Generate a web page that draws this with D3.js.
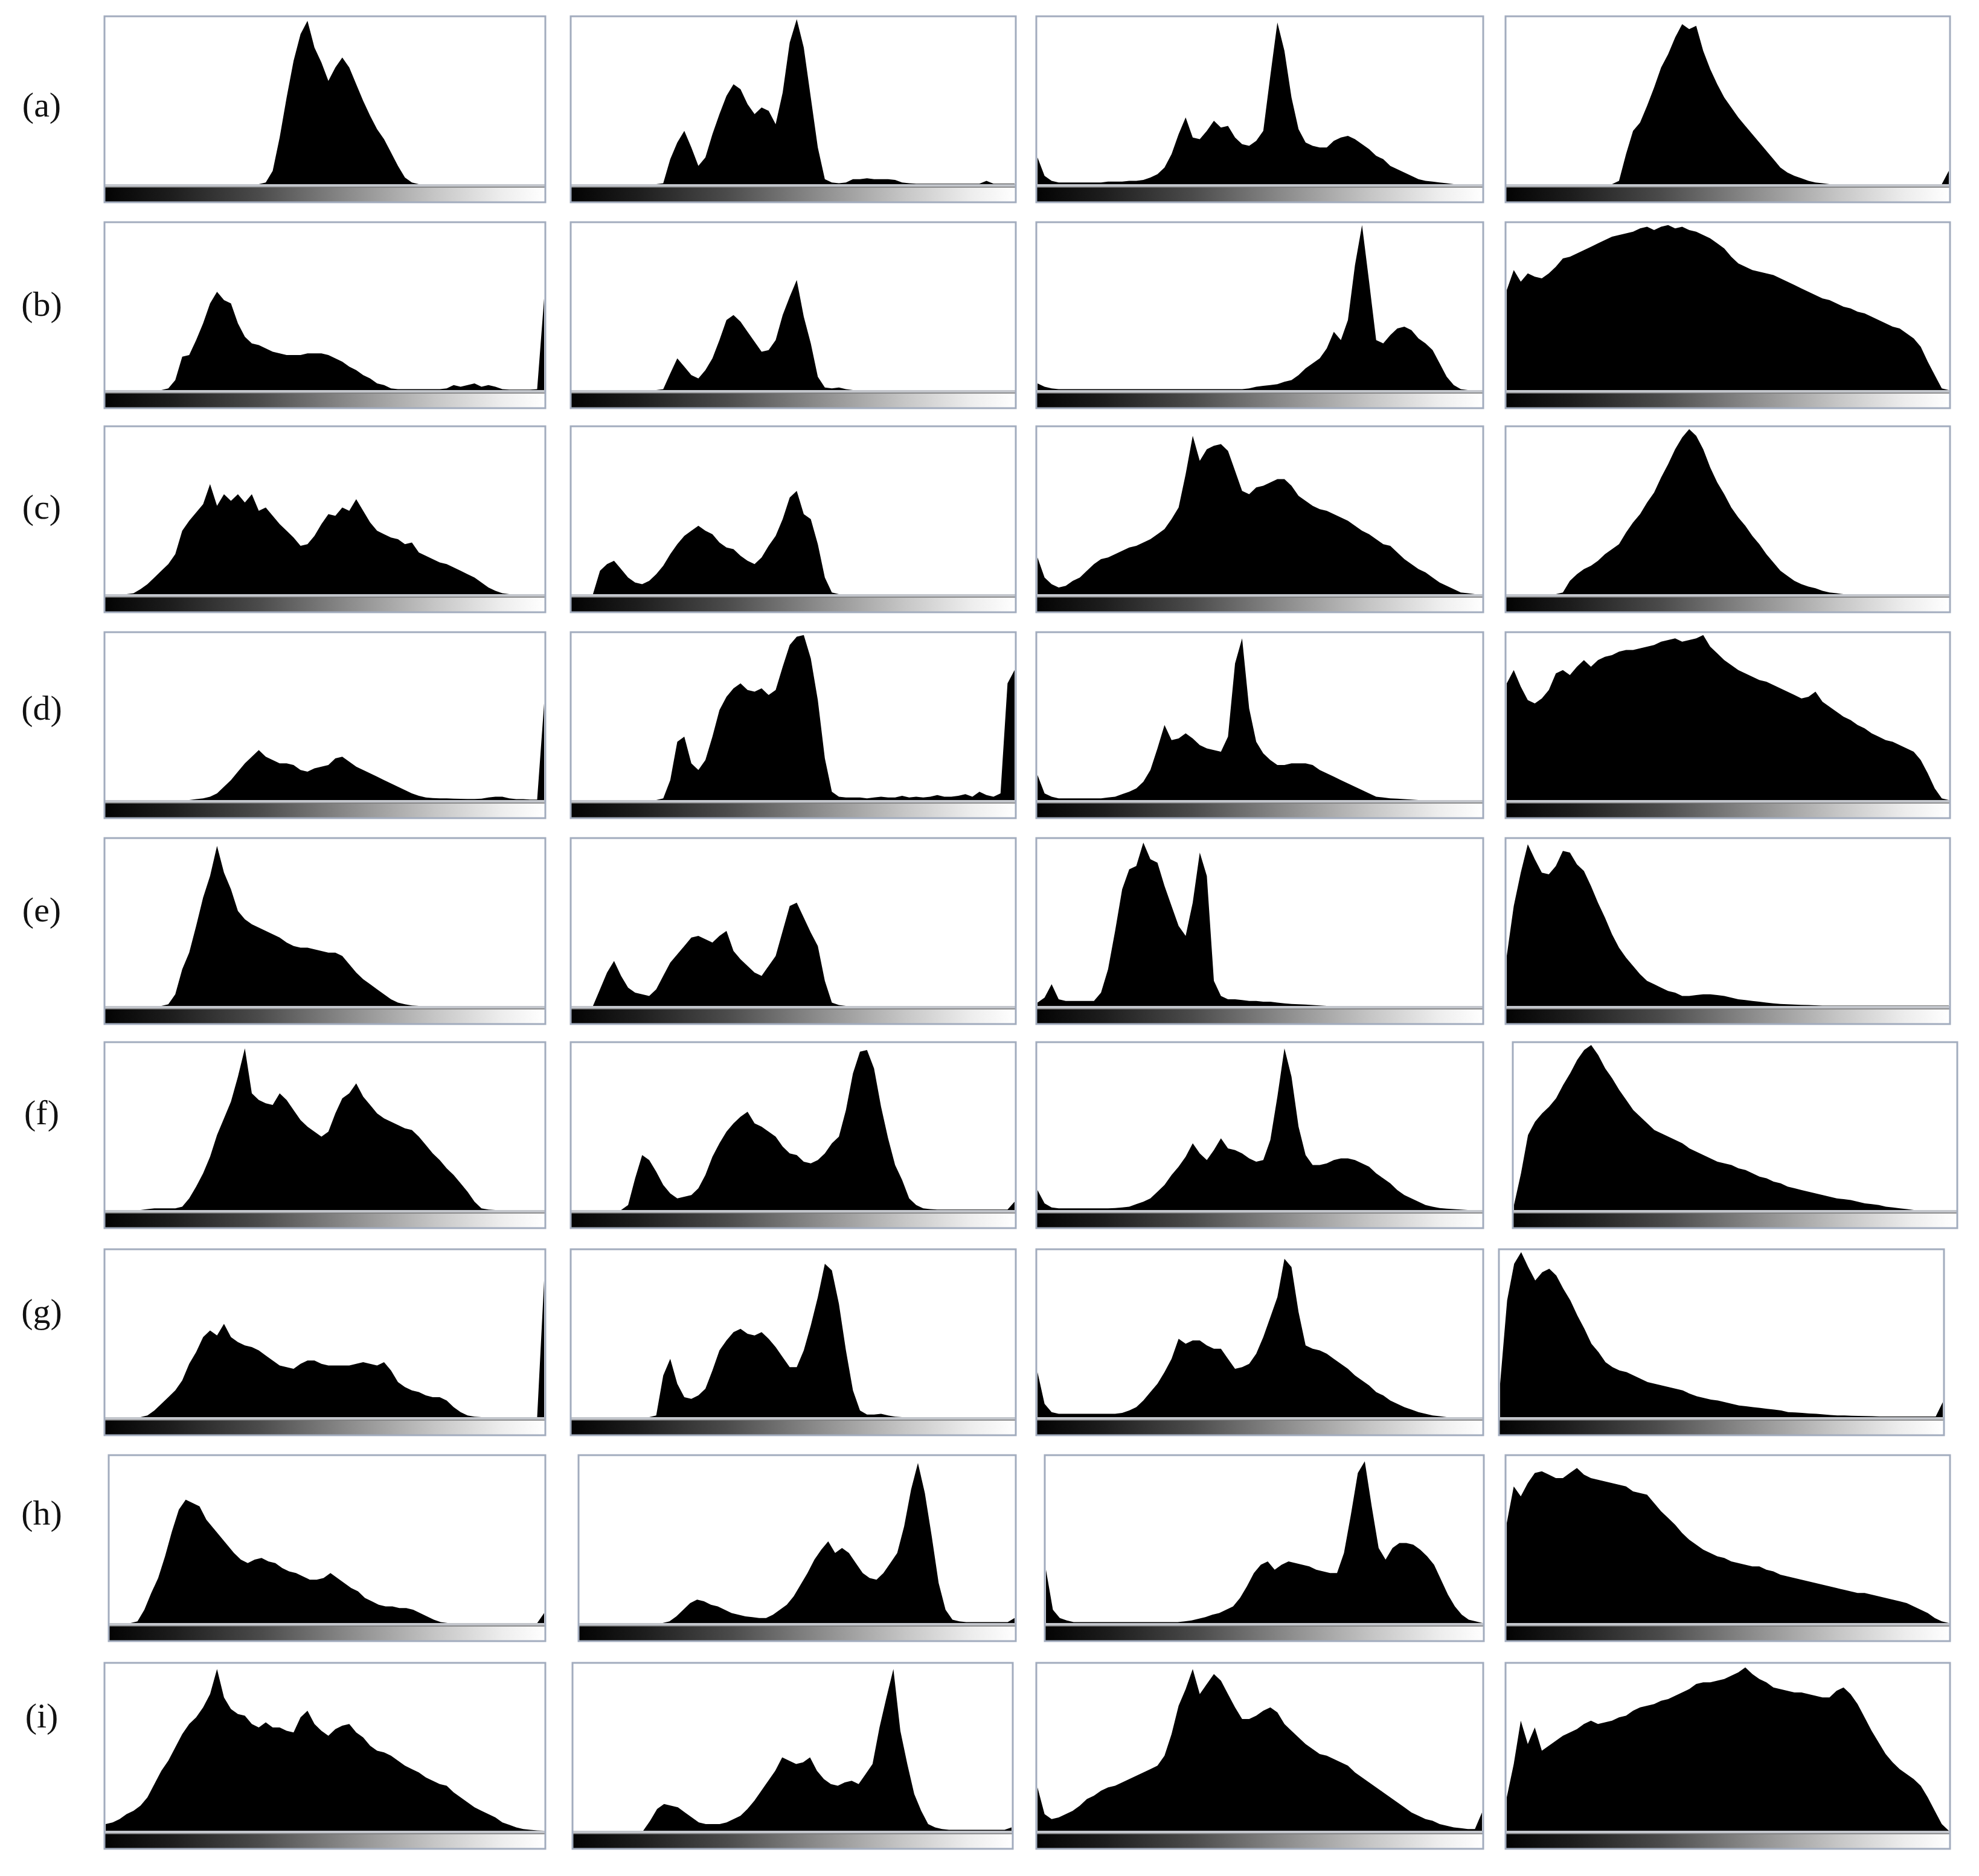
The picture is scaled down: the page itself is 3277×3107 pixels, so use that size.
<!DOCTYPE html>
<html>
<head>
<meta charset="utf-8">
<script src="https://cdn.jsdelivr.net/npm/d3@7"></script>
<style>
  body { margin: 0; background: #fff; }
  .row-label { font-family: 'Liberation Serif', 'Times New Roman', serif; font-size: 58px; fill: #111; }
</style>
</head>
<body>
<div id="chart"></div>
<script>
'use strict'

// row labels
const rowLabels = ['(a)', '(b)', '(c)', '(d)', '(e)', '(f)', '(g)', '(h)', '(i)']

// grey level histograms, 64 bins each, height in % of the plot box
// row (a)
const ha1 = [0,0,0,0,0,0,0,0, 0,0,0,0,0,0,0,0, 0,0,0,0,0,0,0,1, 8,28,52,74,90,98,82,73,
            62,70,76,70,60,50,41,33, 27,19,11,4,1,0,0,0, 0,0,0,0,0,0,0,0, 0,0,0,0,0,0,0,0]
const ha2 = [0,0,0,0,0,0,0,0, 0,0,0,0,0,0.5,15,25, 32,22,11,16,30,42,53,60, 57,48,42,46,44,36,55,85,
            99,82,52,22,3,1,0.5,1, 3,3,3.5,3,3,3,2.5,1, 0.5,0.3,0.3,0.3,0.3,0.3,0.3,0.3, 0.3,0.3,0.3,2,0.3,0.3,0.3,0.3]
const ha3 = [16,5,2,1,1,1,1,1, 1,1,1.5,1.5,1.5,2,2,2.5, 4,6,10,18,30,40,28,27, 32,38,34,35,28,24,23,26,
            32,65,97,80,52,33,25,23, 22,22,26,28,29,27,24,21, 17,15,11,9,7,5,3,2, 1.5,1,0.5,0,0,0,0,0]
const ha4 = [0,0,0,0,0,0,0,0, 0,0,0,0,0,0,0,0, 2,18,32,37,47,58,70,78, 88,96,93,95,80,69,60,52,
            46,40,35,30,25,20,15,10, 7,5,3.5,2,1,0.5,0,0, 0,0,0,0,0,0,0,0, 0,0,0,0,0,0,0,8]
// row (b)
const hb1 = [0,0,0,0,0,0,0,0, 0,1,6,20,21,30,40,52, 59,54,52,40,32,28,27,25, 23,22,21,21,21,22,22,22,
            21,19,17,14,12,9,7,4, 3,1,0.5,0.5,0.5,0.5,0.5,0.5, 0.5,1,3,2,3,4,2,3, 2,0.5,0.3,0.3,0.3,0.3,0.5,55]
const hb2 = [0,0,0,0,0,0,0,0, 0,0,0,0,0,0.5,10,19, 14,9,7,12,19,30,42,45, 41,35,29,23,24,30,45,56,
            66,44,28,8,1.5,1,1.5,0.5, 0,0,0,0,0,0,0,0, 0,0,0,0,0,0,0,0, 0,0,0,0,0,0,0,0]
const hb3 = [4,2,1,0.5,0.5,0.5,0.5,0.5, 0.5,0.5,0.5,0.5,0.5,0.5,0.5,0.5, 0.5,0.5,0.5,0.5,0.5,0.5,0.5,0.5, 0.5,0.5,0.5,0.5,0.5,0.5,1,2,
            2.5,3,3.5,5,6,9,13,16, 19,25,35,30,42,75,99,65, 30,28,33,37,38,36,31,28, 24,16,8,3,0.5,0,0,0]
const hb4 = [60,72,65,70,68,67,70,74, 79,80,82,84,86,88,90,92, 93,94,95,97,98,96,98,99, 97,98,96,95,93,91,88,85,
            80,76,74,72,71,70,69,67, 65,63,61,59,57,55,54,52, 50,49,47,46,44,42,40,38, 37,34,31,26,17,9,1,0]
// row (c)
const hc1 = [0,0,0,0,0.5,3,6,10, 14,18,24,38,44,49,54,66, 53,60,56,60,55,60,50,52, 47,42,38,34,29,30,35,42,
            48,47,52,50,57,50,43,38, 36,34,33,30,31,25,23,21, 19,18,16,14,12,10,7,4, 2,0.5,0,0,0,0,0,0]
const hc2 = [0,0,0,0,14,18,20,15, 10,7,6,8,12,17,24,30, 35,38,41,38,36,31,28,27, 23,20,18,22,29,35,45,58,
            62,48,45,30,10,1,0,0, 0,0,0,0,0,0,0,0, 0,0,0,0,0,0,0,0, 0,0,0,0,0,0,0,0]
const hc3 = [22,10,6,4,5,8,10,14, 18,21,22,24,26,28,29,31, 33,36,39,45,52,72,95,80, 87,89,90,86,74,62,60,64,
            65,67,69,69,65,59,56,53, 51,50,48,46,44,41,38,36, 33,30,29,25,21,18,15,13, 10,7,5,3,1,0.5,0,0]
const hc4 = [0,0,0,0,0,0,0,0, 1,8,12,15,17,20,24,27, 30,37,43,48,55,61,70,78, 87,94,99,95,87,76,67,60,
            52,46,41,35,30,24,19,14, 11,8,6,4.5,3.5,2,1,0.5, 0,0,0,0,0,0,0,0, 0,0,0,0,0,0,0,0]
// row (d)
const hd1 = [0,0,0,0,0,0,0,0, 0,0,0,0,0,0.5,1,2, 4,8,12,17,22,26,30,26, 24,22,22,21,18,17,19,20,
            21,25,26,23,20,18,16,14, 12,10,8,6,4,2.5,1.5,1.2, 1,1,0.8,0.7,0.6,0.6,0.8,1.5, 2,2,1,0.5,0.5,0.3,0.3,58]
const hd2 = [0,0,0,0,0,0,0,0, 0,0,0,0,0,1,12,35, 38,22,18,24,38,54,62,67, 70,66,65,67,63,66,80,93,
            98,99,85,60,25,5,2,1.5, 1.5,1.5,1,1.5,2,1.5,1.5,2.5, 1.5,2,1.5,2,3,2,2,2.5, 3.5,2,5,3,2,4,70,78]
const hd3 = [15,4,2,1,1,1,1,1, 1,1,1.5,2,3.5,5,7,11, 18,31,45,36,37,40,37,33, 31,30,29,38,82,97,55,35,
            28,24,21,21,22,22,22,21, 18,16,14,12,10,8,6,4, 2,1.5,1,0.8,0.5,0.3,0,0, 0,0,0,0,0,0,0,0]
const hd4 = [70,78,68,60,58,61,66,76, 78,75,80,84,80,84,86,87, 89,90,90,91,92,93,95,96, 97,95,96,97,99,92,88,84,
            81,78,76,74,72,71,69,67, 65,63,61,62,65,59,56,53, 50,48,45,43,40,38,36,35, 33,31,29,24,16,7,1,0]
// row (e)
const he1 = [0,0,0,0,0,0,0,0, 0,1,7,22,32,48,65,78, 96,80,70,57,52,49,47,45, 43,41,38,36,35,35,34,33,
            32,32,30,25,20,16,13,10, 7,4,2,1,0.3,0,0,0, 0,0,0,0,0,0,0,0, 0,0,0,0,0,0,0,0]
const he2 = [0,0,0,0,10,20,27,18, 11,8,7,6,10,18,26,31, 36,41,42,40,38,42,45,33, 28,24,20,18,24,30,45,60,
            62,53,44,36,15,2,0.5,0, 0,0,0,0,0,0,0,0, 0,0,0,0,0,0,0,0, 0,0,0,0,0,0,0,0]
const he3 = [2,5,13,4,3,3,3,3, 3,8,22,45,70,82,84,98, 88,86,72,60,48,42,62,92, 78,15,6,4,4,3.5,3,3,
            2.5,2.5,2,1.5,1.2,1,0.8,0.5, 0.3,0,0,0,0,0,0,0, 0,0,0,0,0,0,0,0, 0,0,0,0,0,0,0,0]
const he4 = [30,60,80,97,88,80,79,84, 93,92,85,81,72,62,53,43, 35,29,24,19,15,13,11,9, 8,6,6,6.5,7,7,6.5,6,
            5,4,3.5,3,2.5,2,1.5,1.2, 1,0.8,0.6,0.5,0.4,0.2,0.2,0.2, 0.2,0.2,0.2,0.2,0.2,0.2,0.2,0.2, 0.2,0.2,0.2,0.2,0.2,0.2,0.2,0.2]
// row (f)
const hf1 = [0,0,0,0,0,0,0.5,1, 1,1,1,2,7,14,22,32, 45,55,65,80,97,70,66,64, 63,70,66,60,54,50,47,44,
            47,58,67,70,76,68,63,58, 55,53,51,49,48,44,39,34, 30,25,21,16,11,5,1,0.3, 0,0,0,0,0,0,0,0]
const hf2 = [0,0,0,0,0,0,0,0, 3,19,33,30,23,15,10,7, 8,9,13,21,32,40,47,52, 56,59,52,50,47,44,38,34,
            33,29,28,30,34,40,44,60, 82,95,96,85,62,43,27,18, 7,3,1,0.5,0.3,0.3,0.3,0.3, 0.3,0.3,0.3,0.3,0.3,0.3,0.3,5]
const hf3 = [12,4,1.5,1,1,1,1,1, 1,1,1,1.2,1.5,2,3.5,5, 7,11,15,21,26,32,40,34, 30,36,43,37,36,34,31,29,
            30,42,68,97,80,50,33,27, 27,28,30,31,31,30,28,26, 22,19,16,12,9,7,5,3, 2,1.2,0.8,0.5,0.3,0,0,0]
const hf4 = [3,22,45,53,58,62,67,75, 82,90,96,99,93,85,79,72, 66,60,56,52,48,46,44,42, 40,37,35,33,31,29,28,27,
            25,24,22,20,19,17,16,14, 13,12,11,10,9,8,7,6.5, 6,5,4,3.5,3,2,1.5,1, 0.5,0,0,0,0,0,0,0]
// row (g)
const hg1 = [0,0,0,0,0,0,1,4, 8,12,16,22,32,39,48,52, 49,56,48,45,43,42,40,37, 34,31,30,29,32,34,34,32,
            31,31,31,31,32,33,32,31, 33,28,21,18,16,15,13,12, 12,10,6,3,1,0.3,0,0, 0,0,0,0,0,0,0,82]
const hg2 = [0,0,0,0,0,0,0,0, 0,0,0,0,1,25,35,20, 12,11,13,17,28,40,46,51, 53,50,49,51,47,42,36,30,
            30,40,55,72,92,88,68,40, 16,4,1.5,1.5,2,1,0.3,0, 0,0,0,0,0,0,0,0, 0,0,0,0,0,0,0,0]
const hg3 = [27,8,3,2,2,2,2,2, 2,2,2,2,2.5,4,6,10, 15,20,27,35,47,44,46,46, 43,41,41,35,29,30,32,38,
            48,60,72,95,90,63,43,41, 40,38,35,32,29,25,22,19, 15,13,10,8,6,4.5,3,2, 1,0.5,0,0,0,0,0,0]
const hg4 = [20,70,92,99,90,82,87,89, 85,77,70,61,53,44,39,33, 30,28,27,25,23,21,20,19, 18,17,16,14,12.5,11.5,10.5,10,
            9,8,7,6.5,6,5.5,5,4.5, 4,3,2.8,2.5,2.2,2,1.6,1.3, 1,1,0.8,0.7,0.6,0.5,0.4,0.4, 0.4,0.4,0.4,0.4,0.4,0.4,0.4,9]
// row (h)
const hh1 = [0,0,0,0,1,8,18,27, 40,55,68,74,72,70,62,57, 52,47,42,38,36,38,39,37, 36,33,31,30,28,26,26,27,
            30,27,24,21,19,15,13,11, 10,10,9,9,8,6,4,2, 0.5,0,0,0,0,0,0,0, 0,0,0,0,0,0,0,6]
const hh2 = [0,0,0,0,0,0,0,0, 0,0,0,0,0,1,4,8, 12,14,13,11,10,8,6,5, 4,3.5,3,3,5,8,11,16,
            23,30,38,44,49,42,45,42, 36,30,27,26,30,36,42,58, 80,96,78,52,24,8,2,1, 0.5,0.5,0.5,0.5,0.5,0.5,0.5,3]
const hh3 = [32,8,3,1.5,0.5,0.5,0.5,0.5, 0.5,0.5,0.5,0.5,0.5,0.5,0.5,0.5, 0.5,0.5,0.5,0.5,1,1.5,2.5,3.5, 5,6,8,10,15,22,30,35,
            37,32,35,37,36,35,34,32, 31,30,30,42,65,90,97,70, 45,38,45,48,48,47,44,40, 35,26,17,10,5,2,1,0]
const hh4 = [60,82,76,84,90,91,89,87, 87,90,93,89,87,86,85,84, 83,82,79,78,77,72,67,63, 59,54,50,47,44,42,40,39,
            37,36,35,34,34,32,31,29, 28,27,26,25,24,23,22,21, 20,19,18,18,17,16,15,14, 13,12,10,8,6,3,1,0]
// row (i)
const hi1 = [4,5,7,10,12,15,20,28, 36,42,50,58,64,68,74,82, 97,80,73,70,69,64,62,65, 62,62,60,59,68,72,64,60,
            57,61,63,64,59,56,51,48, 47,45,42,39,37,35,32,30, 28,27,23,20,17,14,12,10, 8,5,3.5,2,1,0.5,0.2,0]
const hi2 = [0,0,0,0,0,0,0,0, 0,0,0,6,13,16,15,14, 11,8,5,4,4,4,5,7, 9,13,18,24,30,36,44,42,
            40,41,44,36,31,28,27,29, 30,28,34,40,62,80,97,60, 40,22,12,4,2,1,0.5,0.5, 0.5,0.5,0.5,0.5,0.5,0.5,0.5,2]
const hi3 = [26,10,7,8,10,12,15,19, 21,24,26,27,29,31,33,35, 37,39,45,58,75,85,97,82, 88,94,90,82,74,67,67,69,
            72,74,71,64,60,56,52,49, 46,45,43,41,39,35,32,29, 26,23,20,17,14,11,9,7, 6,4,3,2,1.5,1,1,11]
const hi4 = [20,40,66,52,62,48,51,54, 57,59,61,64,66,64,65,66, 68,69,72,74,75,76,78,79, 81,83,85,88,89,89,90,91,
            93,95,98,94,91,89,86,85, 84,83,83,82,81,80,80,84, 86,82,76,68,60,53,46,41, 37,34,31,27,20,12,4,0]

const histograms = [
    [ha1, ha2, ha3, ha4], [hb1, hb2, hb3, hb4], [hc1, hc2, hc3, hc4],
    [hd1, hd2, hd3, hd4], [he1, he2, he3, he4], [hf1, hf2, hf3, hf4],
    [hg1, hg2, hg3, hg4], [hh1, hh2, hh3, hh4], [hi1, hi2, hi3, hi4]
]

////////////////////////////////////
/////////////layout/////////////////
////////////////////////////////////

const svgWidth = 3277
const svgHeight = 3107

const rowTops = [27, 368, 706, 1047, 1388, 1726, 2069, 2410, 2754]
const labelY = [193, 523, 859, 1192, 1526, 1862, 2191, 2525, 2861]
const colX = [[173, 903], [945, 1682], [1716, 2456], [2493, 3229]]
// a few panels sit off the grid in the source figure
const panelX = {
    '5-3': [2505, 3241],
    '6-3': [2482, 3219],
    '7-0': [180, 903],
    '7-1': [958, 1682],
    '7-2': [1730, 2457],
    '8-1': [948, 1677]
}

const plotH = 278   // histogram box
const stripH = 5    // grey rule under the histogram
const barH = 25     // grey level bar

const svg = d3.select('#chart')
    .append('svg')
    .attr('width', svgWidth)
    .attr('height', svgHeight)

svg.append('rect')
    .attr('width', svgWidth)
    .attr('height', svgHeight)
    .attr('fill', '#fff')

// black to white ramp under every histogram
const grad = svg.append('defs').append('linearGradient')
    .attr('id', 'ramp')
    .attr('x1', '0%').attr('x2', '100%')
    .attr('y1', '0%').attr('y2', '0%')

const rampStops = [[0, '#030303'], [0.15, '#1d1d1d'], [0.35, '#4b4b4b'], [0.55, '#8a8a8a'],
                   [0.75, '#c6c6c6'], [0.9, '#ededed'], [1, '#ffffff']]
grad.selectAll('stop')
    .data(rampStops)
    .join('stop')
    .attr('offset', d => d[0])
    .attr('stop-color', d => d[1])

// row labels
svg.selectAll('.row-label')
    .data(rowLabels)
    .join('text')
    .attr('class', 'row-label')
    .attr('x', 69)
    .attr('y', (d, i) => labelY[i])
    .attr('text-anchor', 'middle')
    .text(d => d)

histograms.forEach(function (row, r) {
    row.forEach(function (values, c) {
        const [x0, x1] = panelX[`${r}-${c}`] || colX[c]
        const top = rowTops[r]
        const base = top + plotH

        const xScale = d3.scaleLinear()
            .domain([0, values.length - 1])
            .range([x0 + 2, x1 - 2])

        const yScale = d3.scaleLinear()
            .domain([0, 100])
            .range([base, top + 2])

        const area = d3.area()
            .x((d, i) => xScale(i))
            .y0(base)
            .y1(d => yScale(d))

        const g = svg.append('g').attr('class', 'panel')

        g.append('path')
            .datum(values)
            .attr('d', area)
            .attr('fill', '#000')

        // grey rule
        g.append('rect')
            .attr('x', x0)
            .attr('y', base)
            .attr('width', x1 - x0)
            .attr('height', stripH)
            .attr('fill', '#c3c6cc')

        // ramp
        g.append('rect')
            .attr('x', x0)
            .attr('y', base + stripH)
            .attr('width', x1 - x0)
            .attr('height', barH)
            .attr('fill', 'url(#ramp)')
            .attr('stroke', '#777')
            .attr('stroke-width', 1.5)

        // frame
        g.append('rect')
            .attr('x', x0)
            .attr('y', top)
            .attr('width', x1 - x0)
            .attr('height', plotH + stripH + barH)
            .attr('fill', 'none')
            .attr('stroke', '#a2acbe')
            .attr('stroke-width', 3)
    })
})
</script>
</body>
</html>
